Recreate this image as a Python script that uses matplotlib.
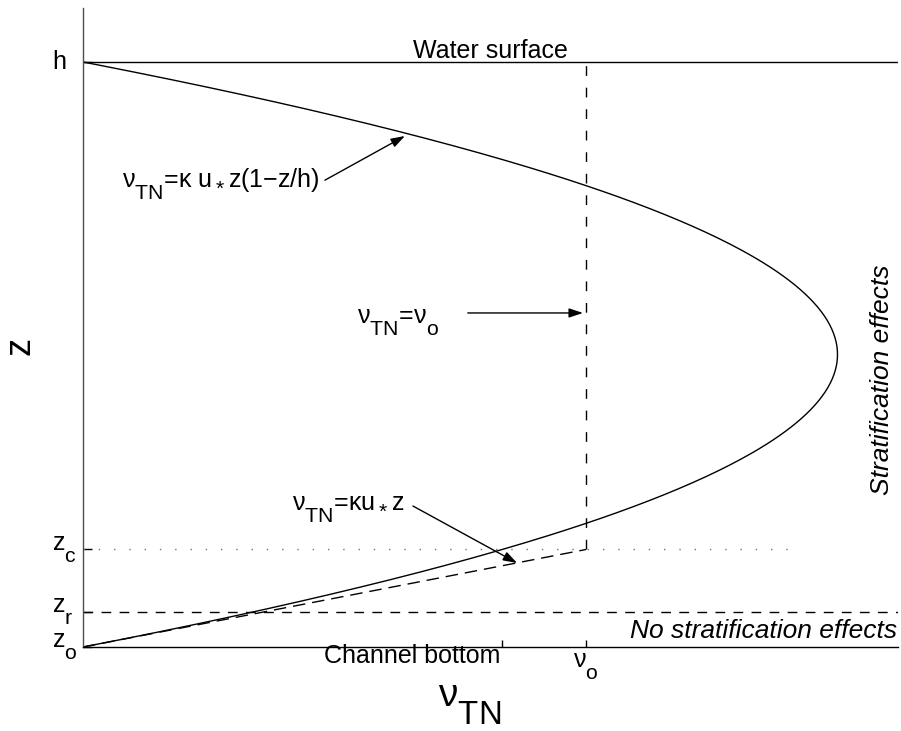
import numpy as np
import matplotlib
matplotlib.use('Agg')
import matplotlib.pyplot as plt

try:
    import matplotlib._mathtext as _mt
    _mt.SHRINK_FACTOR = 0.85
    _mt.FontConstantsBase.sub1 = 0.9
    _mt.FontConstantsBase.sub2 = 0.9
    # superscripts are only used for the low "u*" star
    _mt.FontConstantsBase.sup1 = -0.6
except Exception:
    pass

plt.rcParams['font.family'] = ['Liberation Sans', 'DejaVu Sans']
plt.rcParams['mathtext.fontset'] = 'custom'
plt.rcParams['mathtext.rm'] = 'Liberation Sans'
plt.rcParams['mathtext.it'] = 'Liberation Sans:italic'
plt.rcParams['mathtext.bf'] = 'Liberation Sans:bold'
plt.rcParams['mathtext.default'] = 'regular'

# ---- data (schematic, normalised units) ----
h = 1.0              # water depth
kappa_ustar = 6.0    # kappa * u_*
nu_o = 1.0           # background viscosity
z_r = 0.06           # reference level
z_c = nu_o / kappa_ustar   # where kappa u_* z = nu_o
ytick_vals = [0.0, z_r, z_c, h]
ytick_labels = [r'$z_o$', r'$z_r$', r'$z_c$', 'h']
xtick_vals = [nu_o]
xtick_labels = [r'$ν_o$']
minor_xtick = [0.833]

z = np.linspace(0.0, h, 400)
nu_parab = kappa_ustar * z * (1.0 - z / h)

fig = plt.figure(figsize=(9.01, 7.31), dpi=100)
ax = fig.add_axes([83/901, 84/731, (898-83)/901, (647-8)/731])
ax.set_xlim(0, 1.6203)
ax.set_ylim(0, 1.0923)

ax.plot(nu_parab, z, color='k', lw=1.0)
ax.plot([0, nu_o], [0, z_c], color='k', lw=1.0, ls=(0, (9, 5)))
ax.plot([nu_o, nu_o], [z_c, h], color='k', lw=1.0, ls=(0, (7, 8.5)))
ax.axhline(z_r, color='k', lw=1.0, ls=(0, (7, 6)))
ax.plot([0, 1.408], [z_c, z_c], color='0.45', lw=1.0, ls=(0, (1, 10)))
ax.axhline(h, color='k', lw=1.0)

for s in ['top', 'right']:
    ax.spines[s].set_visible(False)
ax.spines['bottom'].set_linewidth(1.0)
ax.spines['left'].set_linewidth(1.0)
ax.spines['left'].set_color('0.3')

ax.set_yticks(ytick_vals)
ax.set_yticklabels(ytick_labels)
ax.tick_params(axis='y', direction='in', length=6.5, width=1, pad=22.3, labelsize=18)
for lab in ax.get_yticklabels():
    lab.set_horizontalalignment('left')
    lab.set_verticalalignment('center')

ax.set_xticks(xtick_vals)
ax.set_xticklabels(xtick_labels)
ax.set_xticks(minor_xtick, minor=True)
ax.tick_params(axis='x', which='both', direction='in', length=5, width=1, pad=3, labelsize=18)

ax.text(0.964, 1.007, 'Water surface', fontsize=18, ha='right', va='baseline')
ax.text(0.829, -0.027, 'Channel bottom', fontsize=18, ha='right', va='baseline', clip_on=False)
ax.text(1.618, 0.0154, 'No stratification effects', fontsize=19, style='italic',
        ha='right', va='baseline')
ax.text(1.588, 0.456, 'Stratification effects', fontsize=19, style='italic',
        rotation=90, ha='center', va='center')

aprops = dict(arrowstyle='-|>,head_length=0.6,head_width=0.2', lw=1.0, color='k',
              mutation_scale=14, shrinkA=0, shrinkB=0)
ax.annotate('', xy=(0.640, 0.8735), xytext=(0.481, 0.798), arrowprops=aprops)
ax.text(0.471, 0.786, r'$ν_{TN}$=κ $u^*$z(1−z/h)', fontsize=18, ha='right', va='baseline')

ax.annotate('', xy=(0.994, 0.571), xytext=(0.765, 0.571), arrowprops=aprops)
ax.text(0.545, 0.554, r'$ν_{TN}$=$ν_o$', fontsize=18, ha='left', va='baseline')

ax.annotate('', xy=(0.863, 0.1436), xytext=(0.656, 0.241), arrowprops=aprops)
ax.text(0.640, 0.234, r'$ν_{TN}$=κ$u^*$z', fontsize=18, ha='right', va='baseline')

fig.text(20/901, 1 - 346/731, 'z', fontsize=26, rotation=90, ha='center', va='center')
fig.text(470/901, 1 - 705/731, r'$ν_{TN}$', fontsize=28, ha='center', va='center')

fig.savefig('out.png', dpi=100)
